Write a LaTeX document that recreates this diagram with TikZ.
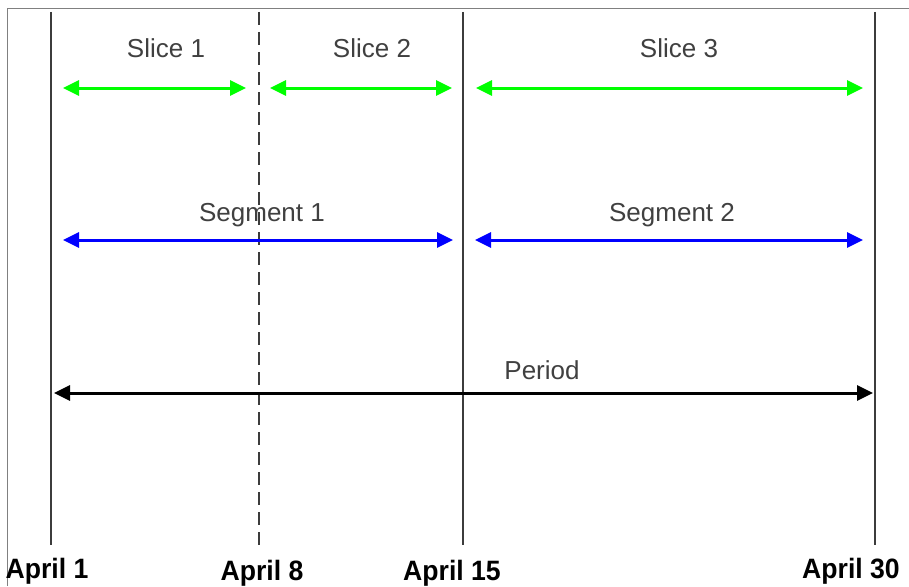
\documentclass[tikz,border=0pt]{standalone}
\usepackage{fontspec}
\setmainfont{Liberation Sans}
\newfontfamily\datefont[FakeStretch=0.95]{Liberation Sans}
\usepackage{tikz}
\usetikzlibrary{arrows.meta, positioning, calc}
\definecolor{slicegreen}{HTML}{00FF00}
\definecolor{segblue}{HTML}{0000FF}
\definecolor{linegray}{HTML}{3C3C3C}

\begin{document}
\begin{tikzpicture}[
  x=1pt, y=-1pt,
  dayline/.style={linegray, line width=2.4pt},
  span/.style={{Triangle[length=16pt,width=15pt]}-{Triangle[length=16pt,width=15pt]}, line width=3pt},
  spanlabel/.style={font=\fontsize{26}{28}\selectfont, text=black!75, inner sep=0pt},
  datelabel/.style={font=\datefont\bfseries\fontsize{28}{30}\selectfont, inner sep=0pt}
]
  \useasboundingbox (0,0) rectangle (909,586);
  \draw[gray, line width=1pt] (7,586) -- (7,9) -- (909,9);

  % day lines
  \coordinate (d1top) at (51,12);  \coordinate (d1bot) at (51,545);
  \coordinate (d8top) at (259,12); \coordinate (d8bot) at (259,552);
  \coordinate (d15top) at (463,12); \coordinate (d15bot) at (463,545);
  \coordinate (d30top) at (875,12); \coordinate (d30bot) at (875,545);
  \draw[dayline] (d1top) -- (d1bot);
  \draw[dayline, dash pattern=on 13pt off 7pt] (d8top) -- (d8bot);
  \draw[dayline] (d15top) -- (d15bot);
  \draw[dayline] (d30top) -- (d30bot);

  % slices
  \coordinate (s1a) at (63,88);  \coordinate (s1b) at (246,88);
  \coordinate (s2a) at (270,88); \coordinate (s2b) at (452,88);
  \coordinate (s3a) at (476,88); \coordinate (s3b) at (863,88);
  \draw[span, slicegreen] (s1a) -- (s1b);
  \draw[span, slicegreen] (s2a) -- (s2b);
  \draw[span, slicegreen] (s3a) -- (s3b);
  \node[spanlabel] (slice1) at (166,48) {Slice 1};
  \node[spanlabel] (slice2) at (372,48) {Slice 2};
  \node[spanlabel] (slice3) at (679,48) {Slice 3};

  % segments
  \coordinate (g1a) at (63,240);  \coordinate (g1b) at (453,240);
  \coordinate (g2a) at (475,240); \coordinate (g2b) at (863,240);
  \draw[span, segblue] (g1a) -- (g1b);
  \draw[span, segblue] (g2a) -- (g2b);
  \node[spanlabel] (seg1) at (262,215) {Segment 1};
  \node[spanlabel] (seg2) at (672,215) {Segment 2};

  % period
  \coordinate (pa) at (54,393); \coordinate (pb) at (873,393);
  \draw[span, black] (pa) -- (pb);
  \node[spanlabel] (period) at (542,370) {Period};

  % dates
  \node[datelabel] (apr1) at (47,571) {April 1};
  \node[datelabel] (apr8) at (262,573) {April 8};
  \node[datelabel] (apr15) at (452,573) {April 15};
  \node[datelabel] (apr30) at (851,571) {April 30};
\end{tikzpicture}
\end{document}
